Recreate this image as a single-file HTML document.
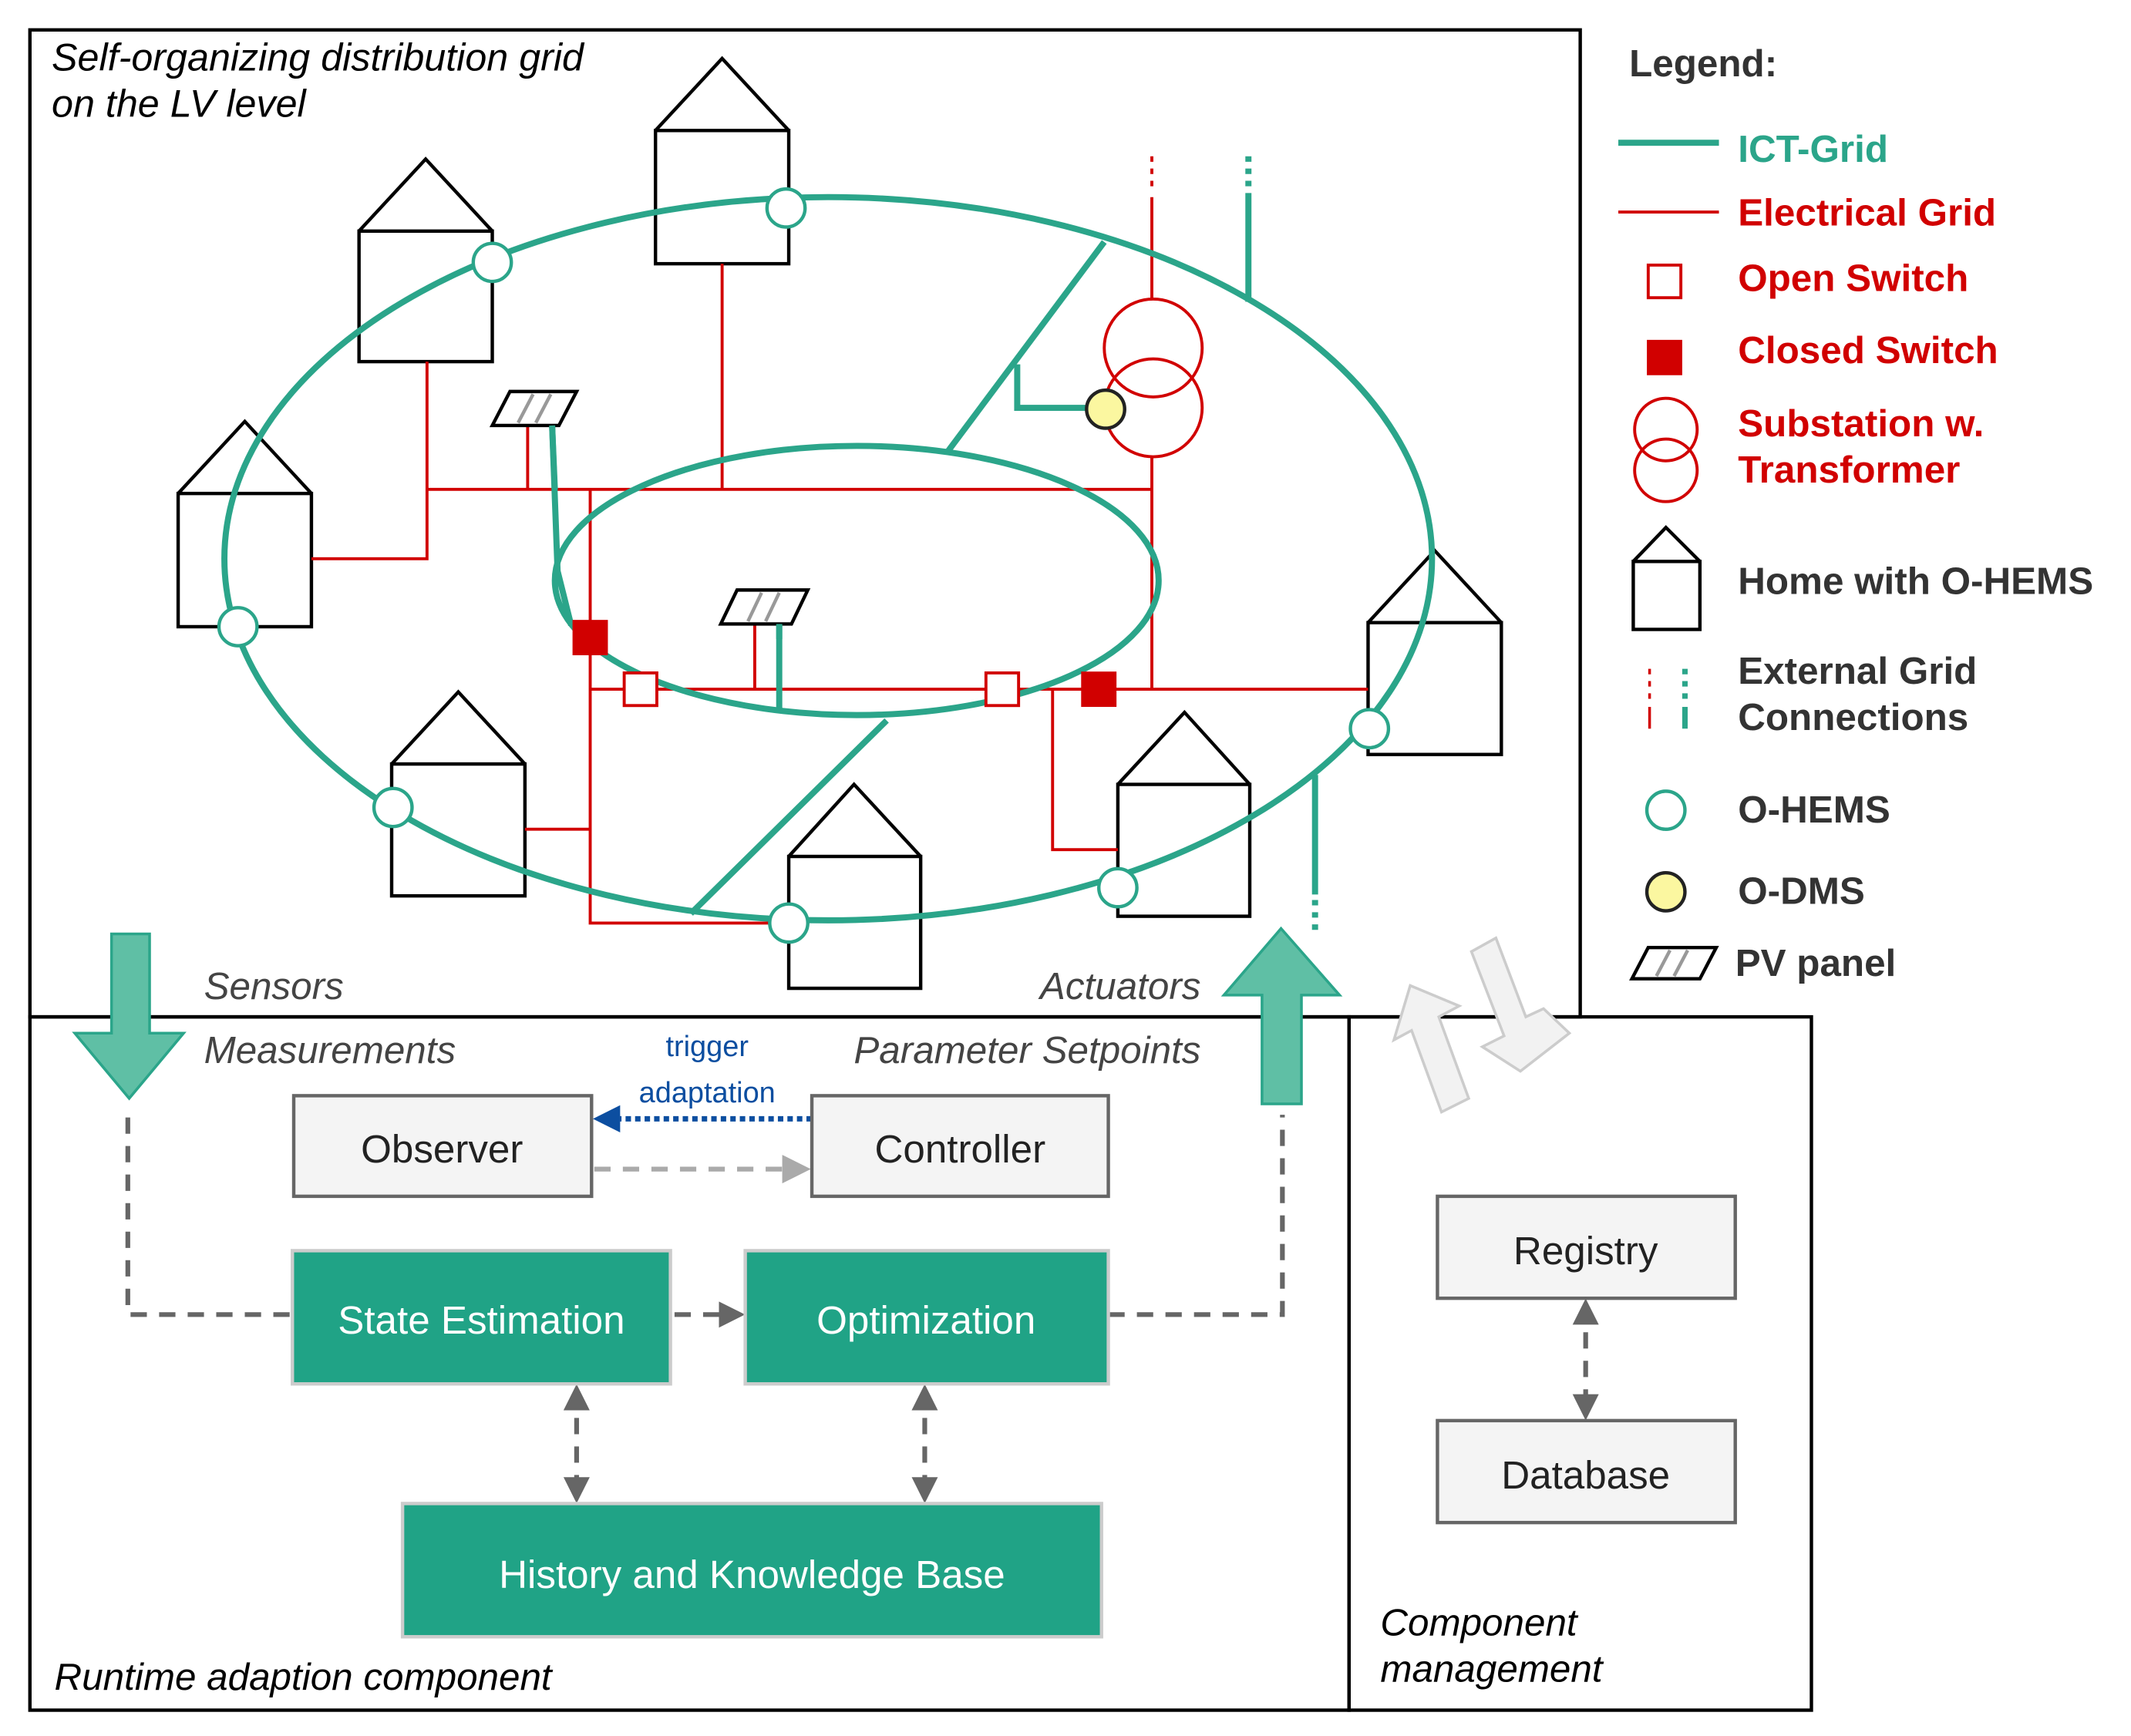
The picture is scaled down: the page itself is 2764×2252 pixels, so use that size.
<!DOCTYPE html>
<html><head><meta charset="utf-8"><style>
html,body{margin:0;padding:0;background:#fff}
svg{display:block}
text{font-family:"Liberation Sans",Arial,sans-serif}
</style></head><body>
<svg width="2764" height="2252" viewBox="0 0 1567 1277" preserveAspectRatio="none" xmlns="http://www.w3.org/2000/svg">
<defs>
<marker id="ag" viewBox="0 0 10 10" refX="8" refY="5" markerWidth="5.5" markerHeight="5.5" orient="auto-start-reverse"><path d="M0,0 L10,5 L0,10 z" fill="#666"/></marker>
<marker id="al" viewBox="0 0 10 10" refX="8" refY="5" markerWidth="6" markerHeight="6" orient="auto"><path d="M0,0 L10,5 L0,10 z" fill="#aaa"/></marker>
<marker id="ab" viewBox="0 0 10 10" refX="8" refY="5" markerWidth="5" markerHeight="5" orient="auto"><path d="M0,0 L10,5 L0,10 z" fill="#0c4ea0"/></marker>
</defs>
<rect width="1567" height="1277" fill="#fff"/>
<g fill="none" stroke="#000" stroke-width="2.5">
<rect x="22" y="22" width="1140" height="726"/>
<rect x="22" y="748" width="970" height="510"/>
<rect x="992" y="748" width="340" height="510"/>
</g>
<text x="38" y="52" font-size="28.5" font-style="italic">Self-organizing distribution grid</text>
<text x="38" y="86" font-size="28.5" font-style="italic">on the LV level</text>
<!-- houses -->
<g fill="#fff" stroke="#000" stroke-width="2.5">
<rect x="264" y="170" width="98" height="96"/><polyline points="264,170 313,117 362,170" fill="none"/>
<rect x="482" y="96" width="98" height="98"/><polyline points="482,96 531,43 580,96" fill="none"/>
<rect x="131" y="363" width="98" height="98"/><polyline points="131,363 180,310 229,363" fill="none"/>
<rect x="288" y="562" width="98" height="97"/><polyline points="288,562 337,509 386,562" fill="none"/>
<rect x="580" y="630" width="97" height="97"/><polyline points="580,630 628,577 677,630" fill="none"/>
<rect x="822" y="577" width="97" height="97"/><polyline points="822,577 871,524 919,577" fill="none"/>
<rect x="1006" y="458" width="98" height="97"/><polyline points="1006,458 1055,405 1104,458" fill="none"/>
</g>
<!-- red electrical -->
<g fill="none" stroke="#d10000" stroke-width="2.2">
<polyline points="229,411 314,411 314,266"/>
<line x1="314" y1="360" x2="847" y2="360"/>
<line x1="531" y1="194" x2="531" y2="360"/>
<line x1="388" y1="313" x2="388" y2="360"/>
<line x1="847" y1="145" x2="847" y2="220"/>
<line x1="847" y1="336" x2="847" y2="507"/>
<polyline points="434,360 434,679 580,679"/>
<line x1="386" y1="610" x2="434" y2="610"/>
<line x1="434" y1="507" x2="1006" y2="507"/>
<line x1="555" y1="459" x2="555" y2="507"/>
<polyline points="774,507 774,625 822,625"/>
<line x1="847" y1="115" x2="847" y2="140" stroke-dasharray="4,5"/>
<circle cx="848" cy="256" r="36"/>
<circle cx="848" cy="300" r="36"/>
</g>
<!-- green ICT -->
<g fill="none" stroke="#2ba58a" stroke-width="4.5">
<ellipse cx="609" cy="411" rx="444" ry="266"/>
<ellipse cx="630" cy="427" rx="222" ry="99"/>
<line x1="697" y1="332" x2="812" y2="178"/>
<polyline points="748,268 748,300 799,300"/>
<line x1="508" y1="672" x2="652" y2="530"/>
<line x1="918" y1="142" x2="918" y2="222"/>
<line x1="918" y1="115" x2="918" y2="138" stroke-dasharray="4,5"/>
<line x1="967" y1="570" x2="967" y2="658"/>
<line x1="967" y1="662" x2="967" y2="686" stroke-dasharray="4,5"/>
<polyline points="406,313 410,420 420,460"/>
<line x1="573" y1="459" x2="573" y2="522"/>
</g>
<g fill="#fff" stroke="#2ba58a" stroke-width="2.5">
<circle cx="362" cy="193" r="14"/><circle cx="578" cy="153" r="14"/><circle cx="175" cy="461" r="14"/>
<circle cx="289" cy="594" r="14"/><circle cx="580" cy="679" r="14"/><circle cx="822" cy="653" r="14"/><circle cx="1007" cy="536" r="14"/>
</g>
<circle cx="813" cy="301" r="14" fill="#fbf7a0" stroke="#222" stroke-width="2.5"/>
<rect x="421" y="456" width="26" height="26" fill="#d10000"/>
<rect x="795" y="494" width="26" height="26" fill="#d10000"/>
<rect x="459" y="495" width="24" height="24" fill="#fff" stroke="#d10000" stroke-width="2.2"/>
<rect x="725" y="495" width="24" height="24" fill="#fff" stroke="#d10000" stroke-width="2.2"/>
<g stroke-width="2.5">
<polygon points="362,313 375,288 424,288 411,313" fill="#fff" stroke="#000"/>
<line x1="381" y1="311" x2="392" y2="290" stroke="#999"/><line x1="394" y1="311" x2="405" y2="290" stroke="#999"/>
<polygon points="530,459 542,434 594,434 582,459" fill="#fff" stroke="#000"/>
<line x1="550" y1="457" x2="560" y2="436" stroke="#999"/><line x1="563" y1="457" x2="573" y2="436" stroke="#999"/>
</g>
<line x1="406" y1="313" x2="408" y2="360" stroke="#2ba58a" stroke-width="4.5"/>
<line x1="573" y1="459" x2="573" y2="470" stroke="#2ba58a" stroke-width="4.5"/>
<!-- legend -->
<g font-size="28" font-weight="bold">
<text x="1198" y="56" fill="#333">Legend:</text>
<line x1="1190" y1="105" x2="1264" y2="105" stroke="#2ba58a" stroke-width="4.5"/>
<text x="1278" y="119" fill="#2ba58a">ICT-Grid</text>
<line x1="1190" y1="156" x2="1264" y2="156" stroke="#d10000" stroke-width="2.2"/>
<text x="1278" y="166" fill="#d10000">Electrical Grid</text>
<rect x="1212" y="195" width="24" height="24" fill="#fff" stroke="#d10000" stroke-width="2.2"/>
<text x="1278" y="214" fill="#d10000">Open Switch</text>
<rect x="1211" y="250" width="26" height="26" fill="#d10000"/>
<text x="1278" y="267" fill="#d10000">Closed Switch</text>
<circle cx="1225" cy="316" r="23" fill="none" stroke="#d10000" stroke-width="2.2"/>
<circle cx="1225" cy="346" r="23" fill="none" stroke="#d10000" stroke-width="2.2"/>
<text x="1278" y="321" fill="#d10000">Substation w.</text>
<text x="1278" y="355" fill="#d10000">Transformer</text>
<rect x="1201" y="413" width="49" height="50" fill="#fff" stroke="#000" stroke-width="2.5"/>
<polyline points="1201,413 1225,388 1250,413" fill="none" stroke="#000" stroke-width="2.5"/>
<text x="1278" y="437" fill="#333">Home with O-HEMS</text>
<line x1="1213" y1="492" x2="1213" y2="516" stroke="#d10000" stroke-width="2" stroke-dasharray="4,5"/>
<line x1="1213" y1="520" x2="1213" y2="536" stroke="#d10000" stroke-width="2"/>
<line x1="1239" y1="492" x2="1239" y2="516" stroke="#2ba58a" stroke-width="4" stroke-dasharray="4,5"/>
<line x1="1239" y1="520" x2="1239" y2="536" stroke="#2ba58a" stroke-width="4"/>
<text x="1278" y="503" fill="#333">External Grid</text>
<text x="1278" y="537" fill="#333">Connections</text>
<circle cx="1225" cy="596" r="14" fill="#fff" stroke="#2ba58a" stroke-width="2.5"/>
<text x="1278" y="605" fill="#333">O-HEMS</text>
<circle cx="1225" cy="656" r="14" fill="#fbf7a0" stroke="#222" stroke-width="2.5"/>
<text x="1278" y="665" fill="#333">O-DMS</text>
<polygon points="1200,720 1212,697 1262,697 1250,720" fill="#fff" stroke="#000" stroke-width="2.5"/>
<line x1="1218" y1="718" x2="1228" y2="699" stroke="#999" stroke-width="2.5"/><line x1="1231" y1="718" x2="1241" y2="699" stroke="#999" stroke-width="2.5"/>
<text x="1276" y="718" fill="#333">PV panel</text>
</g>
<polygon points="82,687 110,687 110,760 135,760 95,808 55,760 82,760" fill="#5fbfa5" stroke="#2ba58a" stroke-width="2"/>
<polygon points="942,683 985,732 957,732 957,812 928,812 928,732 900,732" fill="#5fbfa5" stroke="#2ba58a" stroke-width="2"/>
<g fill="#f2f2f2" stroke="#ccc" stroke-width="2">
<polygon points="1037,725 1073,740 1058,748 1080,808 1060,818 1038,758 1025,765"/>
<polygon points="1082,700 1100,690 1122,748 1135,742 1154,760 1118,788 1090,770 1106,762"/>
</g>
<g font-size="28" font-style="italic" fill="#444">
<text x="150" y="735">Sensors</text>
<text x="883" y="735" text-anchor="end">Actuators</text>
<text x="150" y="782">Measurements</text>
<text x="883" y="782" text-anchor="end">Parameter Setpoints</text>
</g>
<text x="520" y="777" font-size="21.5" fill="#0c4ea0" text-anchor="middle">trigger</text>
<text x="520" y="811" font-size="21.5" fill="#0c4ea0" text-anchor="middle">adaptation</text>
<g fill="none" stroke="#666" stroke-width="3.5" stroke-dasharray="12,9">
<polyline points="94,822 94,967 215,967"/>
<polyline points="815,967 943,967 943,820"/>
<line x1="496" y1="967" x2="544" y2="967" marker-end="url(#ag)"/>
<line x1="424" y1="1022" x2="424" y2="1102" marker-start="url(#ag)" marker-end="url(#ag)"/>
<line x1="680" y1="1022" x2="680" y2="1102" marker-start="url(#ag)" marker-end="url(#ag)"/>
<line x1="1166" y1="959" x2="1166" y2="1041" marker-start="url(#ag)" marker-end="url(#ag)"/>
</g>
<line x1="437" y1="860" x2="592" y2="860" stroke="#aaa" stroke-width="3.5" stroke-dasharray="12,9" marker-end="url(#al)"/>
<line x1="597" y1="823" x2="440" y2="823" stroke="#0c4ea0" stroke-width="4" stroke-dasharray="4,3" marker-end="url(#ab)"/>
<g stroke-width="2.5">
<rect x="216" y="806" width="219" height="74" fill="#f4f4f4" stroke="#666"/>
<rect x="597" y="806" width="218" height="74" fill="#f4f4f4" stroke="#666"/>
<rect x="215" y="920" width="278" height="98" fill="#20a386" stroke="#ccc"/>
<rect x="548" y="920" width="267" height="98" fill="#20a386" stroke="#ccc"/>
<rect x="296" y="1106" width="514" height="98" fill="#20a386" stroke="#ccc"/>
<rect x="1057" y="880" width="219" height="75" fill="#f4f4f4" stroke="#666"/>
<rect x="1057" y="1045" width="219" height="75" fill="#f4f4f4" stroke="#666"/>
</g>
<g font-size="29" text-anchor="middle">
<text x="325" y="855" fill="#222">Observer</text>
<text x="706" y="855" fill="#222">Controller</text>
<text x="354" y="981" fill="#fff">State Estimation</text>
<text x="681" y="981" fill="#fff">Optimization</text>
<text x="553" y="1168" fill="#fff">History and Knowledge Base</text>
<text x="1166" y="930" fill="#222">Registry</text>
<text x="1166" y="1095" fill="#222">Database</text>
</g>
<g font-size="28" font-style="italic">
<text x="40" y="1243">Runtime adaption component</text>
<text x="1015" y="1203">Component</text>
<text x="1015" y="1237">management</text>
</g>
</svg>
</body></html>
